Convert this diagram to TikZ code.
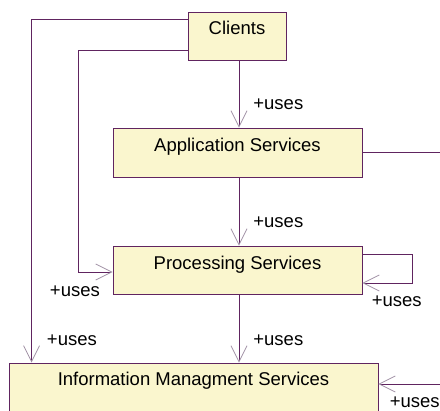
\documentclass[tikz,border=0pt]{standalone}
\usepackage{fontspec}
\setmainfont{Liberation Sans}
\usepackage{tikz}
\usetikzlibrary{arrows.meta,positioning,calc}
\definecolor{layerline}{RGB}{96,36,96}
\definecolor{layerfill}{RGB}{250,246,206}
\definecolor{usestip}{RGB}{160,144,164}

\begin{document}
\begin{tikzpicture}[x=1pt, y=-1pt,
    layer/.style={draw=layerline, fill=layerfill, line width=0.9pt, inner sep=0pt,
        font=\fontsize{18.5}{21}\selectfont, text height=23pt},
    uses/.style={draw=layerline, line width=0.8pt,
        -{Straight Barb[length=16pt, width=16pt, color=usestip]}},
    lbl/.style={inner sep=0pt, font=\fontsize{18.5}{21}\selectfont}]
\useasboundingbox (0,0) rectangle (440,411);

% layers
\node[layer, minimum width=98pt, minimum height=48pt, text depth=25pt] (clients) at (237,36) {Clients};
\node[layer, minimum width=249pt, minimum height=49pt, text height=24pt, text depth=25pt] (app) at (237.5,152.5) {Application Services};
\node[layer, minimum width=249pt, minimum height=48pt, text height=24pt, text depth=24pt] (proc) at (237.5,270) {Processing Services};
\node[layer, minimum width=369pt, minimum height=49pt, text depth=26pt] (info) at (193.5,387.5) {Information Managment Services};

% dependencies
\draw[uses] ([xshift=2pt]clients.south) -- ([xshift=1.5pt]app.north)
    node[lbl, at end, anchor=mid west, xshift=14pt, yshift=21pt] {+uses};
\draw[uses] ([xshift=1.5pt]app.south) -- ([xshift=1.5pt]proc.north)
    node[lbl, at end, anchor=mid west, xshift=14pt, yshift=21pt] {+uses};
\draw[uses] ([xshift=1.5pt]proc.south) -- ([xshift=45.5pt]info.north)
    node[lbl, at end, anchor=mid west, xshift=14pt, yshift=20pt] {+uses};
\draw[uses] ([yshift=-8pt]clients.north west) -| ([xshift=23pt]info.north west)
    node[lbl, at end, anchor=mid west, xshift=15pt, yshift=20pt] {+uses};
\draw[uses] ([yshift=10pt]clients.south west) -- ++(-109pt,0) |- ([yshift=-2pt]proc.west)
    node[lbl, at end, anchor=mid west, xshift=-63pt, yshift=-22pt] {+uses};
\draw[uses] ([yshift=16pt]proc.east) -- ++(50pt,0) |- ([yshift=-13pt]proc.east)
    node[lbl, at end, anchor=mid west, xshift=9pt, yshift=-21pt] {+uses};
\draw[uses] ([xshift=62pt, yshift=3.5pt]info.east) -- ([yshift=3.5pt]info.east)
    node[lbl, at end, anchor=mid west, xshift=11pt, yshift=-21pt] {+uses};
\draw[draw=layerline, line width=0.8pt] (app.east) -- ++(78pt,0);
\end{tikzpicture}
\end{document}
